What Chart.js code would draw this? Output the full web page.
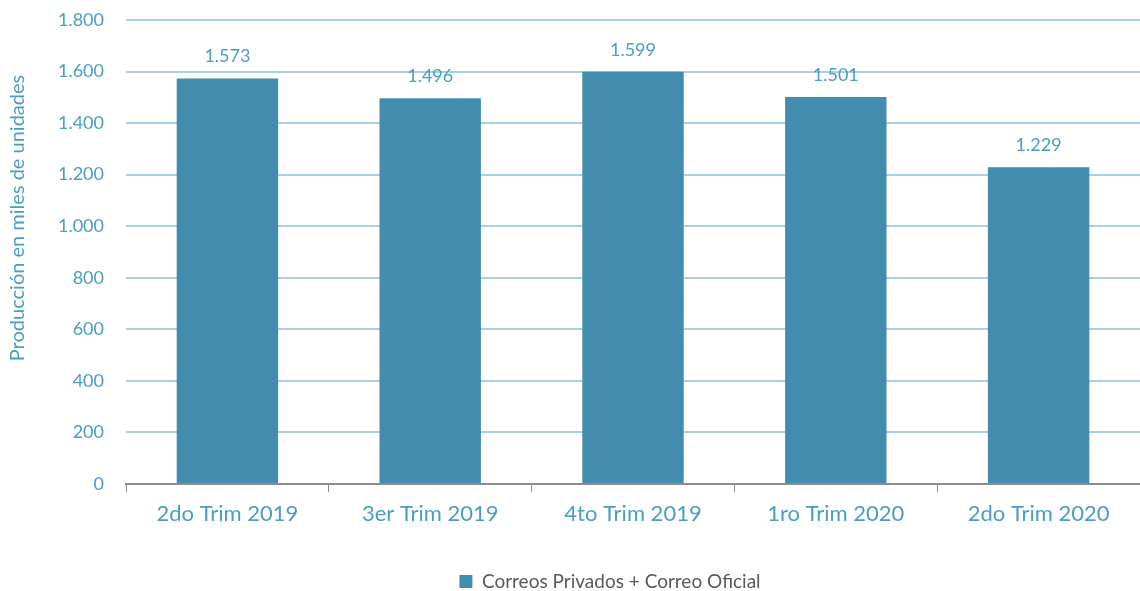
<!DOCTYPE html>
<html><head><meta charset="utf-8">
<script src="https://cdn.jsdelivr.net/npm/chart.js@4/dist/chart.umd.min.js"></script>
<style>html,body{margin:0;padding:0;background:#fff}#wrap{width:1140px;height:591px}</style>
</head><body><div id="wrap"><canvas id="c"></canvas></div>
<script>
const categories = ['2do Trim 2019','3er Trim 2019','4to Trim 2019','1ro Trim 2020','2do Trim 2020'];
const seriesName = 'Correos Privados + Correo Oficial';
const values = [1573, 1496, 1599, 1501, 1229];
const yTicks = [0,200,400,600,800,1000,1200,1400,1600,1800];
const yTitle = 'Producción en miles de unidades';

const FONT = "Lato, 'Open Sans', sans-serif";
const TXT = '#4A9DC3';
const BAR = '#428DAD';
const fmt = v => String(v).replace(/\B(?=(\d{3})+(?!\d))/g, '.');

const labelsPlugin = {
  id: 'valLabels',
  afterLayout(chart) {
    const lg = chart.legend;
    if (lg) { lg.left += 80; lg.right += 0; }
  },
  afterDatasetsDraw(chart) {
    const ctx = chart.ctx;
    const meta = chart.getDatasetMeta(0);
    ctx.save();
    ctx.font = "18px " + FONT;
    ctx.fillStyle = TXT;
    ctx.textAlign = 'center';
    ctx.textBaseline = 'middle';
    meta.data.forEach((el, i) => {
      ctx.fillText(fmt(values[i]), el.x, el.y - 22);
    });
    const ya = chart.scales.y;
    ctx.font = "20px " + FONT;
    ctx.translate(18, (ya.top + ya.bottom) / 2 - 34);
    ctx.rotate(-Math.PI / 2);
    ctx.fillText(yTitle, 0, 0);
    ctx.restore();
  }
};

new Chart(document.getElementById('c'), {
  type: 'bar',
  data: {
    labels: categories,
    datasets: [{ label: seriesName, data: values, backgroundColor: BAR, borderWidth: 0,
      barPercentage: 0.5, categoryPercentage: 1.0 }]
  },
  options: {
    responsive: true, maintainAspectRatio: false, animation: false,
    layout: { padding: { top: 20, right: 0, left: 0, bottom: -10 } },
    plugins: {
      legend: { position: 'bottom', labels: { font: { family: FONT, size: 19 }, color: '#595959',
        boxWidth: 13, boxHeight: 13, padding: 2 } },
      tooltip: { enabled: false }
    },
    scales: {
      x: {
        grid: { display: true, drawOnChartArea: false, drawTicks: true, tickLength: 8, color: '#8C8C8C', offset: true },
        border: { display: true, color: '#8C8C8C', width: 2 },
        ticks: { font: { family: FONT, size: 22 }, color: TXT, padding: 9 },
        afterFit(s) { s.height = 86; }
      },
      y: {
        min: 0, max: 1800,
        afterBuildTicks(s) { s.ticks = yTicks.map(v => ({ value: v })); },
        grid: { color: '#A9CFE2', lineWidth: 2, drawTicks: false },
        border: { display: false },
        ticks: { font: { family: FONT, size: 18 }, color: TXT, padding: 22, callback: v => fmt(v) },
        afterFit(s) { s.width = 126; s.paddingTop = 0; s.paddingBottom = 0; }
      }
    }
  },
  plugins: [labelsPlugin]
});
</script></body></html>
